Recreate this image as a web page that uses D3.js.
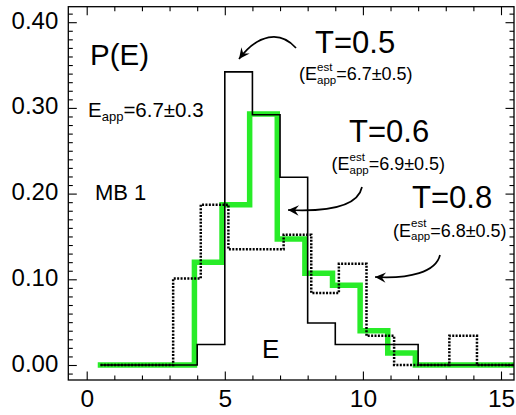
<!DOCTYPE html>
<html><head><meta charset="utf-8">
<script src="https://cdn.jsdelivr.net/npm/d3@7"></script>
<style>
html,body{margin:0;padding:0;background:#fff;}
text{font-family:"Liberation Sans",Arial,Helvetica,sans-serif;fill:#000;}
</style></head>
<body>
<svg id="chart" width="516" height="415"></svg>
<script>
// ---- data (step histograms: bin edges and bin probabilities) ----
const solidEdges  = [0.5, 4, 5, 6, 7, 8, 9, 12, 15.6];
const solidP      = [0, 0.024, 0.342, 0.292, 0.219, 0.049, 0.024, 0];
const greenEdges  = [0.4, 3.9, 4.9, 5.9, 6.9, 7.9, 8.9, 9.9, 10.9, 11.9, 15.6];
const greenP      = [0, 0.120, 0.187, 0.293, 0.147, 0.107, 0.093, 0.040, 0.014, 0];
const dottedEdges = [0.5, 3.13, 4.13, 5.13, 7.13, 8.13, 9.13, 10.13, 11.13, 13.13, 14.13, 15.6];
const dottedP     = [0, 0.101, 0.187, 0.135, 0.152, 0.084, 0.118, 0.034, 0, 0.034, 0];
const xMajorTicks = [0, 5, 10, 15];
const yMajorTicks = [0, 0.1, 0.2, 0.3, 0.4];
const yTickLabels = ["0.00", "0.10", "0.20", "0.30", "0.40"];
const tLabels     = ["T=0.5", "T=0.6", "T=0.8"];
const estValues   = ["=6.7\u00B10.5)", "=6.9\u00B10.5)", "=6.8\u00B10.5)"];

const svg = d3.select("#chart");
const L = 68.3, R = 514, T = 6.7, B = 380;
const x = d3.scaleLinear().domain([0, 15]).range([86.7, 501]);
const y = d3.scaleLinear().domain([0, 0.4]).range([365, 22.2]);

svg.append("defs").append("clipPath").attr("id", "clip")
  .append("rect").attr("x", L).attr("y", T).attr("width", R - L).attr("height", B - T);

function stepPoints(edges, vals) {
  const pts = [];
  vals.forEach((v, i) => { pts.push([edges[i], v]); pts.push([edges[i + 1], v]); });
  return pts;
}
const line = d3.line().x(d => x(d[0])).y(d => y(d[1]));
const g = svg.append("g").attr("clip-path", "url(#clip)");
g.append("path").attr("d", line(stepPoints(greenEdges, greenP)))
  .attr("fill", "none").attr("stroke", "#28ec28").attr("stroke-width", 5.5).attr("stroke-linejoin", "miter");
g.append("path").attr("d", line(stepPoints(solidEdges, solidP)))
  .attr("fill", "none").attr("stroke", "#000").attr("stroke-width", 1.6);
g.append("path").attr("d", line(stepPoints(dottedEdges, dottedP)))
  .attr("fill", "none").attr("stroke", "#000").attr("stroke-width", 2.5).attr("stroke-dasharray", "2,1.4");

// ---- axes ----
const xMinor = d3.range(0, 16, 1).filter(v => !xMajorTicks.includes(v));
const yMinor = d3.range(-1, 42, 1).map(v => v / 100).filter(v => Math.round(v * 100) % 10 !== 0);

function addAxis(axisFn, scale, transform, major, minor, labels, fmt) {
  const a = svg.append("g").attr("transform", transform);
  a.call(axisFn(scale).tickValues(minor).tickSizeInner(-4.5).tickSizeOuter(0).tickFormat(""));
  const b = svg.append("g").attr("transform", transform);
  b.call(axisFn(scale).tickValues(major).tickSizeInner(-8.5).tickSizeOuter(0)
    .tickPadding(labels ? 10 : 0).tickFormat(labels ? fmt : ""));
  [a, b].forEach(s => { s.select(".domain").remove(); s.selectAll("line").attr("stroke", "#000").attr("stroke-width", 1.1); });
  return b;
}
const bx = addAxis(d3.axisBottom, x, `translate(0,${B})`, xMajorTicks, xMinor, true, d => d);
bx.selectAll("text").attr("font-size", 24.5).attr("dy", "0.71em");
addAxis(d3.axisTop, x, `translate(0,${T})`, xMajorTicks, xMinor, false);
const ly = addAxis(d3.axisLeft, y, `translate(${L},0)`, yMajorTicks, yMinor, true, (d, i) => yTickLabels[i]);
ly.selectAll("text").attr("font-size", 24).attr("dy", "0.25em");
addAxis(d3.axisRight, y, `translate(${R},0)`, yMajorTicks, yMinor, false);
svg.selectAll("g.tick text").attr("font-family", "Liberation Sans, Arial, sans-serif");

svg.append("rect").attr("x", L).attr("y", T).attr("width", R - L).attr("height", B - T)
  .attr("fill", "none").attr("stroke", "#000").attr("stroke-width", 1.3);

// ---- texts ----
function txt(s, xx, yy, size) {
  return svg.append("text").attr("x", xx).attr("y", yy).attr("font-size", size).text(s);
}
txt("P(E)", 90, 65, 29.5);
txt("MB 1", 95, 200, 22);
txt("E", 262, 358, 26);

// E_app = 6.7±0.3
{
  const t1 = txt("E", 88, 117, 20.5);
  const w1 = t1.node().getComputedTextLength();
  const t2 = txt("app", 88 + w1, 120.5, 13);
  const w2 = t2.node().getComputedTextLength();
  txt("=6.7\u00B10.3", 88 + w1 + w2, 117, 20.5);
}

function estLabel(xx, yy, val) {
  const t1 = txt("(E", xx, yy, 18);
  const w1 = t1.node().getComputedTextLength();
  const s = txt("est", xx + w1, yy - 9.3, 11.5);
  const b = txt("app", xx + w1, yy + 3.5, 11.5);
  const w2 = Math.max(s.node().getComputedTextLength(), b.node().getComputedTextLength());
  txt(val, xx + w1 + w2, yy, 18);
}
const tPos = [[315, 53.3], [349, 141.7], [412, 208]];
const ePos = [[299, 80], [331.5, 170], [393, 236.7]];
tLabels.forEach((s, i) => txt(s, tPos[i][0], tPos[i][1], 31));
estValues.forEach((s, i) => estLabel(ePos[i][0], ePos[i][1], s));

// ---- curved arrows ----
const arrows = [
  { p: [[296, 48], [280, 30], [258, 34], [239, 59]] },
  { p: [[362, 187], [358, 206], [330, 212], [288, 210]] },
  { p: [[440, 255], [436, 272], [410, 279], [375, 277]] }
];
arrows.forEach(a => {
  const [p0, c1, c2, p1] = a.p;
  const path = d3.path();
  path.moveTo(p0[0], p0[1]);
  path.bezierCurveTo(c1[0], c1[1], c2[0], c2[1], p1[0], p1[1]);
  svg.append("path").attr("d", path.toString()).attr("fill", "none")
    .attr("stroke", "#000").attr("stroke-width", 1.7);
  const ang = Math.atan2(p1[1] - c2[1], p1[0] - c2[0]);
  const len = 12, spread = 0.45, back = 7;
  const pt = (r, a2) => [p1[0] - r * Math.cos(ang + a2), p1[1] - r * Math.sin(ang + a2)];
  const A = pt(len, spread), Bp = pt(back, 0), C = pt(len, -spread);
  svg.append("path").attr("d", `M${p1[0]},${p1[1]}L${A[0]},${A[1]}L${Bp[0]},${Bp[1]}L${C[0]},${C[1]}Z`)
    .attr("fill", "#000");
});
</script>
</body></html>
